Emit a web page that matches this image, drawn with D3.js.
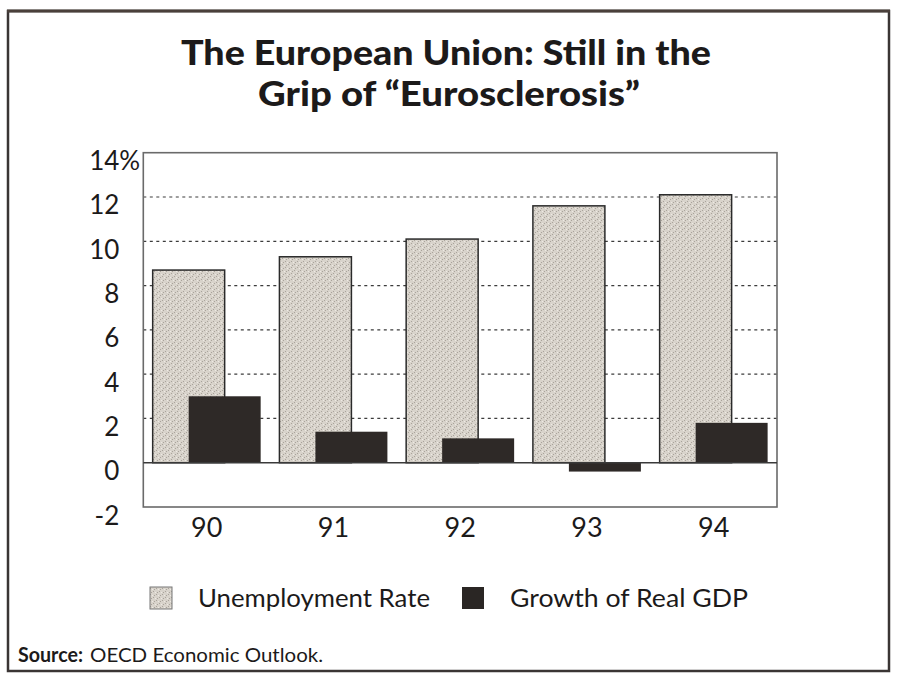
<!DOCTYPE html>
<html>
<head>
<meta charset="utf-8">
<script src="https://cdn.jsdelivr.net/npm/d3@7/dist/d3.min.js"></script>
<style>
  html, body { margin: 0; padding: 0; background: #fff; }
  svg { display: block; }
  text { font-family: Lato, "Open Sans", sans-serif; fill: #1c1a1a; }
</style>
</head>
<body>
<svg id="chart" width="898" height="677"></svg>
<script>
// ---- data ----
const years = ["90", "91", "92", "93", "94"];
const unemployment = [8.7, 9.3, 10.1, 11.6, 12.1];
const gdpGrowth = [3.0, 1.4, 1.1, -0.4, 1.8];
const yTicks = [-2, 0, 2, 4, 6, 8, 10, 12, 14];
const titleLines = ["The European Union: Still in the", "Grip of \u201cEurosclerosis\u201d"];
const seriesNames = ["Unemployment Rate", "Growth of Real GDP"];

const svg = d3.select("#chart");
const plot = { left: 143.3, right: 777, top: 152.7, bottom: 507 };

// pattern for speckled fill
const defs = svg.append("defs");
const pat = defs.append("pattern").attr("id", "speckle")
  .attr("patternUnits", "userSpaceOnUse").attr("width", 6).attr("height", 6);
pat.append("rect").attr("width", 6).attr("height", 6).attr("fill", "#d8d3cb");
[[0,0],[3,3],[1,4],[4,1]].forEach(([a,b]) =>
  pat.append("rect").attr("x", a).attr("y", b).attr("width", 1).attr("height", 1).attr("fill", "#a9a39b"));
[[2,1],[5,4]].forEach(([a,b]) =>
  pat.append("rect").attr("x", a).attr("y", b).attr("width", 1).attr("height", 1).attr("fill", "#eeeae4"));

// outer frame
svg.append("rect").attr("x", 8).attr("y", 11).attr("width", 881).attr("height", 660)
  .attr("fill", "#fff").attr("stroke", "#3a3534").attr("stroke-width", 2.5);
svg.append("line").attr("x1", 7).attr("x2", 890).attr("y1", 11).attr("y2", 11)
  .attr("stroke", "#4a403b").attr("stroke-width", 3);

// title
svg.selectAll("text.title").data(titleLines).join("text")
  .attr("class", "title")
  .attr("x", (d, i) => i === 0 ? 446 : 449)
  .attr("y", (d, i) => 65 + i * 41)
  .attr("text-anchor", "middle")
  .attr("font-size", 34).attr("font-weight", 900)
  .attr("textLength", (d, i) => i === 0 ? 530 : 382)
  .attr("lengthAdjust", "spacingAndGlyphs")
  .text(d => d);

// scales
const x = d3.scaleBand().domain(years).range([plot.left, plot.right])
  .paddingInner(0.148).paddingOuter(0.074);
const y = d3.scaleLinear().domain([-2, 14]).range([plot.bottom, plot.top]);
const bw = x.bandwidth() * 2 / 3;

// gridlines
svg.append("g").selectAll("line").data(yTicks.filter(v => v > 0 && v < 14)).join("line")
  .attr("x1", plot.left).attr("x2", plot.right)
  .attr("y1", d => y(d)).attr("y2", d => y(d))
  .attr("stroke", "#3c3c3c").attr("stroke-width", 1.2)
  .attr("stroke-dasharray", "3,3.5");

// plot frame
svg.append("rect").attr("x", plot.left).attr("y", plot.top)
  .attr("width", plot.right - plot.left).attr("height", plot.bottom - plot.top)
  .attr("fill", "none").attr("stroke", "#6a6a6a").attr("stroke-width", 1.6);

// unemployment bars
svg.append("g").selectAll("rect").data(unemployment).join("rect")
  .attr("x", (d, i) => x(years[i]))
  .attr("width", bw)
  .attr("y", d => y(Math.max(0, d)))
  .attr("height", d => Math.abs(y(d) - y(0)))
  .attr("fill", "url(#speckle)")
  .attr("stroke", "#2a2a2a").attr("stroke-width", 1.5);

// gdp bars
svg.append("g").selectAll("rect").data(gdpGrowth).join("rect")
  .attr("x", (d, i) => x(years[i]) + x.bandwidth() / 3)
  .attr("width", bw)
  .attr("y", d => y(Math.max(0, d)))
  .attr("height", d => Math.abs(y(d) - y(0)))
  .attr("fill", "#2e2927");

// zero line
svg.append("line").attr("x1", plot.left).attr("x2", plot.right)
  .attr("y1", y(0)).attr("y2", y(0))
  .attr("stroke", "#3a3a3a").attr("stroke-width", 1.6);

// y axis labels
const yAxis = svg.append("g").attr("transform", `translate(${plot.left},0)`)
  .call(d3.axisLeft(y).tickValues(yTicks).tickSize(0).tickPadding(24).tickFormat(d => String(d)));
yAxis.select(".domain").remove();
yAxis.selectAll("text")
  .attr("font-family", "Lato, sans-serif").attr("font-size", 26)
  .attr("fill", "#1c1a1a").attr("dy", 17);
yAxis.selectAll(".tick").filter(d => d === 14).append("text")
  .attr("x", -24).attr("dy", 17).attr("text-anchor", "start")
  .attr("font-family", "Lato, sans-serif").attr("font-size", 26)
  .attr("fill", "#1c1a1a").text("%");

// x axis labels
const xAxis = svg.append("g").attr("transform", `translate(0,${plot.bottom})`)
  .call(d3.axisBottom(x).tickSize(0).tickPadding(0));
xAxis.select(".domain").remove();
xAxis.selectAll("text")
  .attr("font-family", "Lato, sans-serif").attr("font-size", 27)
  .attr("fill", "#1c1a1a").attr("dy", 30);

// legend
const legendItems = [
  { name: seriesNames[0], sx: 150, tx: 198, len: 232, fill: "url(#speckle)", stroke: "#777" },
  { name: seriesNames[1], sx: 462, tx: 510, len: 238, fill: "#2a2624", stroke: "none" }
];
const lg = svg.append("g").selectAll("g").data(legendItems).join("g");
lg.append("rect").attr("x", d => d.sx).attr("y", 587).attr("width", 22).attr("height", 22)
  .attr("fill", d => d.fill).attr("stroke", d => d.stroke).attr("stroke-width", 1);
lg.append("text").attr("x", d => d.tx).attr("y", 607)
  .attr("font-size", 25.5)
  .attr("textLength", d => d.len).attr("lengthAdjust", "spacingAndGlyphs")
  .text(d => d.name);

// source
svg.append("text").attr("x", 18).attr("y", 662).attr("font-size", 20)
  .attr("font-weight", 700).attr("textLength", 65).attr("lengthAdjust", "spacingAndGlyphs")
  .text("Source:");
svg.append("text").attr("x", 90).attr("y", 662).attr("font-size", 20)
  .attr("textLength", 233).attr("lengthAdjust", "spacingAndGlyphs")
  .text("OECD Economic Outlook.");
</script>
</body>
</html>
